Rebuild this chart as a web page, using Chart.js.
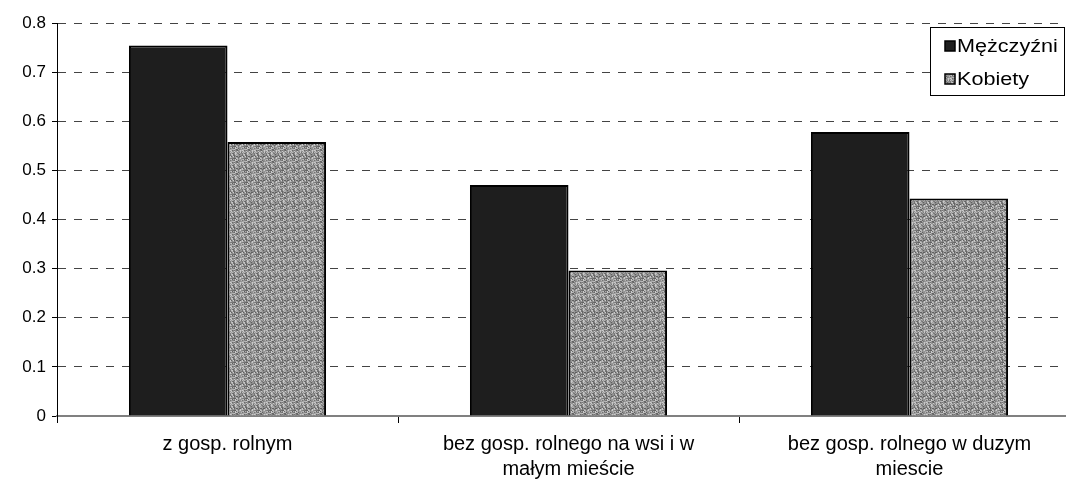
<!DOCTYPE html>
<html>
<head>
<meta charset="utf-8">
<script src="https://cdn.jsdelivr.net/npm/chart.js@4.4.0/dist/chart.umd.min.js"></script>
<style>
  html, body { margin: 0; padding: 0; background: #fff; overflow: hidden; }
  #wrap { position: relative; width: 1082px; height: 482px; }
</style>
</head>
<body>
<div id="wrap"><canvas id="chart"></canvas></div>
<script>
// data
const categories = [
  'z gosp. rolnym',
  ['bez gosp. rolnego na wsi i w', 'małym mieście'],
  ['bez gosp. rolnego w duzym', 'miescie']
];
const menValues = [0.754, 0.470, 0.578];
const womenValues = [0.558, 0.296, 0.443];
const seriesNames = ['Mężczyźni', 'Kobiety'];

// grey woven-ish texture for the second series
function makePattern() {
  const c = document.createElement('canvas');
  c.width = 12; c.height = 12;
  const g = c.getContext('2d');
  for (let i = 0; i < 12; i++) {
    for (let j = 0; j < 12; j++) {
      const v = (i * 37 + j * 91 + ((i * j) % 7) * 23 + ((i + j) % 3) * 17) % 110;
      const s = 95 + v;
      g.fillStyle = 'rgb(' + s + ',' + s + ',' + s + ')';
      g.fillRect(i, j, 1, 1);
    }
  }
  return g.createPattern(c, 'repeat');
}
const texture = makePattern();
const FONT = 'Liberation Sans, Arial, sans-serif';

// legend box sitting over the top right of the plot
const legendBox = {
  id: 'legendBox',
  afterDraw(chart) {
    const ctx = chart.ctx;
    const x = 930, y = 27, w = 134, h = 68;
    ctx.save();
    ctx.fillStyle = '#fff';
    ctx.fillRect(x, y, w, h);
    ctx.strokeStyle = '#000';
    ctx.lineWidth = 1;
    ctx.strokeRect(x + 0.5, y + 0.5, w, h);
    const fills = ['#1e1e1e', texture];
    ctx.font = '18px ' + FONT;
    ctx.textBaseline = 'middle';
    for (let k = 0; k < 2; k++) {
      const cy = y + 19 + k * 33;
      ctx.fillStyle = fills[k];
      ctx.fillRect(945, cy - 5, 10, 10);
      ctx.strokeStyle = '#000';
      ctx.lineWidth = 1.5;
      ctx.strokeRect(945, cy - 5, 10, 10);
      ctx.fillStyle = '#000';
      ctx.save();
      ctx.translate(957, cy + 1);
      ctx.scale(1.2, 1);
      ctx.fillText(seriesNames[k], 0, 0);
      ctx.restore();
    }
    ctx.restore();
  }
};

new Chart(document.getElementById('chart'), {
  type: 'bar',
  data: {
    labels: categories,
    datasets: [
      { label: seriesNames[0], data: menValues, backgroundColor: '#1e1e1e', borderColor: '#000', borderWidth: 2 },
      { label: seriesNames[1], data: womenValues, backgroundColor: texture, borderColor: '#000', borderWidth: 2 }
    ]
  },
  options: {
    responsive: true,
    maintainAspectRatio: false,
    animation: false,
    layout: { padding: { top: 23, right: 2, bottom: 0, left: 0 } },
    datasets: { bar: { categoryPercentage: 0.578, barPercentage: 1.0 } },
    plugins: { legend: { display: false }, tooltip: { enabled: false } },
    scales: {
      x: {
        offset: true,
        grid: { offset: true, drawOnChartArea: false, drawTicks: true, tickLength: 7, color: '#000', tickColor: '#000' },
        border: { display: true, color: '#808080', width: 2 },
        ticks: { color: '#000', font: { family: FONT, size: 20, lineHeight: 1.25 }, padding: 9, maxRotation: 0, autoSkip: false },
        afterFit(s) { s.height = 66; }
      },
      y: {
        min: 0, max: 0.8,
        ticks: {
          stepSize: 0.1, color: '#000', padding: 6,
          font: { family: FONT, size: 17 },
          callback: v => (Math.round(v * 10) / 10).toString()
        },
        grid: {
          color: c => c.tick && c.tick.value === 0 ? 'rgba(0,0,0,0)' : '#444',
          lineWidth: 1,
          tickLength: 5, tickColor: '#000', tickBorderDash: []
        },
        border: { display: true, color: '#000', width: 1, dash: [8, 8] },
        afterFit(s) { s.width = 57; }
      }
    }
  },
  plugins: [legendBox]
});
</script>
</body>
</html>
